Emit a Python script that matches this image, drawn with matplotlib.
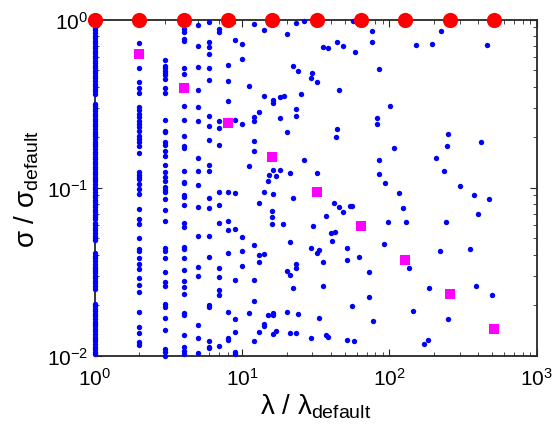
import numpy as np
import matplotlib
matplotlib.use('Agg')
import matplotlib.pyplot as plt

plt.rcParams['font.family'] = ['Liberation Sans', 'DejaVu Sans']
plt.rcParams['mathtext.fontset'] = 'custom'
plt.rcParams['mathtext.rm'] = 'Liberation Sans'
plt.rcParams['mathtext.it'] = 'Liberation Sans:italic'

# blue dots, grouped by lambda column (lambda = 1 .. 10)
col1 = [0.955, 0.891, 0.862, 0.832, 0.804, 0.776, 0.75, 0.724, 0.7, 0.676, 0.653, 0.631,
        0.61, 0.589, 0.57, 0.55, 0.531, 0.513, 0.496, 0.479, 0.463, 0.447, 0.432, 0.417,
        0.403, 0.389, 0.376, 0.363, 0.316, 0.305, 0.295, 0.285, 0.275, 0.266, 0.257, 0.248,
        0.24, 0.232, 0.224, 0.216, 0.209, 0.202, 0.195, 0.188, 0.182, 0.176, 0.17, 0.164,
        0.158, 0.153, 0.148, 0.143, 0.138, 0.133, 0.129, 0.124, 0.12, 0.116, 0.112, 0.109,
        0.105, 0.101, 0.098, 0.095, 0.091, 0.088, 0.085, 0.082, 0.079, 0.077, 0.074, 0.072,
        0.069, 0.067, 0.065, 0.062, 0.06, 0.058, 0.056, 0.054, 0.052, 0.05, 0.049, 0.041,
        0.0395, 0.038, 0.0367, 0.035, 0.034, 0.033, 0.032, 0.031, 0.03, 0.029, 0.028, 0.027,
        0.026, 0.025, 0.0204, 0.0197, 0.0191, 0.0184, 0.0178, 0.0172, 0.0166, 0.016, 0.0155,
        0.015, 0.0145, 0.014, 0.0135, 0.013, 0.0126, 0.0122, 0.0117, 0.0113, 0.011, 0.0106, 0.0102]
col2 = [0.727, 0.516, 0.426, 0.393, 0.367, 0.303, 0.290, 0.275, 0.264, 0.250, 0.240, 0.230,
        0.218, 0.204, 0.195, 0.187, 0.177, 0.161, 0.124, 0.119, 0.116, 0.113, 0.105, 0.098,
        0.092, 0.075, 0.065, 0.061, 0.050, 0.043, 0.042, 0.038, 0.035, 0.033, 0.029, 0.0265,
        0.024, 0.0183, 0.0149, 0.0137, 0.0121, 0.0116]
col3 = [0.576, 0.530, 0.516, 0.495, 0.482, 0.469, 0.444, 0.393, 0.367, 0.253, 0.218, 0.215,
        0.1875, 0.180, 0.166, 0.155, 0.137, 0.124, 0.116, 0.110, 0.101, 0.0971, 0.0945,
        0.0859, 0.0739, 0.0636, 0.0439, 0.0421, 0.0383, 0.0316, 0.0276, 0.0261, 0.0204,
        0.0196, 0.0168, 0.0143, 0.0110, 0.0106, 0.0100]
col4 = [0.880, 0.845, 0.768, 0.747, 0.516, 0.476, 0.307, 0.253, 0.2035, 0.1774, 0.1726,
        0.126, 0.1084, 0.1069, 0.0907, 0.0883, 0.0791, 0.0618, 0.0585, 0.0445, 0.0433,
        0.0383, 0.0325, 0.0280, 0.0258, 0.0234, 0.0180, 0.0175, 0.0133, 0.0113, 0.0107, 0.0103]
col5 = [0.930, 0.698, 0.523, 0.382, 0.303, 0.250, 0.151, 0.126, 0.104, 0.0770, 0.0518,
        0.0339, 0.0300, 0.0153, 0.0128, 0.0104]
col6 = [0.969, 0.737, 0.688, 0.625, 0.516, 0.438, 0.268, 0.233, 0.193, 0.137, 0.126,
        0.0871, 0.0759, 0.0518, 0.0388, 0.0201, 0.0196, 0.0123, 0.0113, 0.0112]
col7 = [0.880, 0.845, 0.250, 0.227, 0.180, 0.0945, 0.0791, 0.0618, 0.0334, 0.0295,
        0.0247, 0.0231, 0.0115]
col8 = [0.538, 0.432, 0.329, 0.253, 0.0945, 0.0636, 0.0562, 0.0410, 0.0183, 0.0128, 0.0125]
col9 = [0.757, 0.253, 0.0933, 0.0569, 0.0283, 0.0166, 0.0139, 0.0106, 0.0102]
col10 = [0.717, 0.584, 0.239, 0.0513, 0.0418, 0.0342]
columns = [col1, col2, col3, col4, col5, col6, col7, col8, col9, col10]

# remaining blue dots, lambda > 10
lam_rest = [12.0, 14.0, 20.0, 23.1, 26.2, 35.1, 38.4, 44.2, 48.5, 58.2, 56.7, 75.6, 75.6,
            84.7, 22.1, 24.1, 30.0, 29.1, 32.3, 11.05, 45.4, 14.0, 16.1, 16.1, 18.0, 19.2,
            25.0, 13.0, 12.0, 12.0, 23.1, 23.1, 18.0, 101, 82.5, 81.7, 44.2, 43.3, 20.0,
            12.0, 12.0, 11.05, 26.2, 16.1, 18.0, 15.1, 17.1, 21.1, 32.3, 84.3, 85.1,
            15.0, 93.0, 14.0, 16.1, 13.0, 22.2, 16.0, 16.0, 16.0, 19.0, 12.0, 13.0, 14.0,
            13.0, 21.1, 29.1, 32.3, 33.3, 30.1, 37.0, 40.2, 42.6, 40.5, 42.2, 45.4, 48.5,
            53.9, 55.5, 51.4, 51.2, 61.7, 97.1, 91.2, 72.8, 35.5, 23.1, 23.1, 20.0, 21.1,
            22.2, 35.1, 12.0, 12.0, 11.05, 15.0, 16.1, 16.1, 14.0, 14.0, 20.0, 24.0, 33.3,
            55.3, 72.8, 76.8, 13.0, 12.0, 16.1, 17.1, 21.1, 23.1, 29.1, 37.0, 38.4, 51.4,
            57.6, 223, 152, 194, 459, 248, 108, 245, 415, 206, 235, 116, 123, 129, 243, 301,
            372, 471, 400, 221, 351, 136, 185, 384, 496, 144, 250, 182, 171]
sig_rest = [0.943, 0.869, 0.819, 0.956, 0.978, 0.685, 0.676, 0.737, 0.700, 0.645, 0.978,
            0.853, 0.734, 0.509, 0.533, 0.497, 0.480, 0.448, 0.428, 0.405, 0.380, 0.353,
            0.333, 0.318, 0.346, 0.353, 0.360, 0.284, 0.265, 0.248, 0.294, 0.269, 0.260,
            0.308, 0.259, 0.239, 0.224, 0.200, 0.214, 0.191, 0.165, 0.134, 0.147, 0.128,
            0.128, 0.119, 0.117, 0.123, 0.122, 0.146, 0.121, 0.109, 0.107, 0.0949, 0.092,
            0.0816, 0.0871, 0.0729, 0.0669, 0.061, 0.061, 0.0456, 0.0399, 0.0403, 0.0364,
            0.0479, 0.0441, 0.0412, 0.0427, 0.0596, 0.0675, 0.0539, 0.0547, 0.0481, 0.0816,
            0.0773, 0.0716, 0.078, 0.0783, 0.0439, 0.0373, 0.039, 0.0625, 0.046, 0.0315,
            0.0364, 0.0354, 0.0335, 0.0322, 0.0303, 0.0253, 0.0262, 0.0281, 0.0213, 0.0179,
            0.0174, 0.018, 0.0174, 0.0155, 0.0151, 0.0182, 0.0178, 0.0168, 0.0198, 0.0225,
            0.0161, 0.0138, 0.0123, 0.0135, 0.014, 0.0136, 0.0137, 0.0128, 0.0133, 0.0129,
            0.0124, 0.0122, 0.857, 0.707, 0.720, 0.707, 0.210, 0.173, 0.176, 0.186, 0.151,
            0.125, 0.0936, 0.076, 0.0625, 0.0625, 0.102, 0.0911, 0.0855, 0.0697, 0.0423,
            0.0433, 0.0333, 0.0253, 0.0261, 0.0231, 0.0184, 0.0166, 0.0125, 0.0117]

# red circles (sigma = 1) and magenta squares
lam_red = [1, 2, 4, 8, 16, 32, 64, 128, 256, 512]
sig_red = [1, 1, 1, 1, 1, 1, 1, 1, 1, 1]
lam_mag = [1, 2, 4, 8, 16, 32, 64, 128, 256, 512]
sig_mag = [1.0, 0.625, 0.391, 0.243, 0.152, 0.0949, 0.0596, 0.0371, 0.0232, 0.0144]

lam_blue = []
sig_blue = []
for i, col in enumerate(columns):
    lam_blue += [i + 1] * len(col)
    sig_blue += col
lam_blue += lam_rest
sig_blue += sig_rest

fig = plt.figure(figsize=(5.58, 4.39), dpi=100)
ax = fig.add_axes([0.170, 0.187, 0.792, 0.766])

ax.scatter(lam_blue, sig_blue, s=15, c='#0000ff', marker='o', linewidths=0, zorder=3, clip_on=False)
ax.scatter(lam_mag, sig_mag, s=60, c='#ff00ff', marker='s', linewidths=0, zorder=4, clip_on=False)
ax.scatter(lam_red, sig_red, s=120, c='#ff0000', marker='o', linewidths=0, zorder=5, clip_on=False)

ax.set_xscale('log')
ax.set_yscale('log')
ax.set_xlim(1, 1000)
ax.set_ylim(0.01, 1)

for s in ax.spines.values():
    s.set_linewidth(1.3)
    s.set_color('#262626')
    s.set_zorder(2)
ax.tick_params(which='both', direction='in', top=True, right=True, colors='#262626',
               labelcolor='black', labelsize=15)
ax.tick_params(which='major', length=5, width=0.8)
ax.tick_params(which='minor', length=3, width=0.6)
ax.tick_params(axis='x', pad=8)
ax.tick_params(axis='y', pad=5)

ax.set_xlabel(r'λ / λ$_{\mathrm{default}}$', fontsize=20, labelpad=2)
ax.set_ylabel(r'σ / σ$_{\mathrm{default}}$', fontsize=20, labelpad=4)

fig.savefig('out.png', dpi=100)
